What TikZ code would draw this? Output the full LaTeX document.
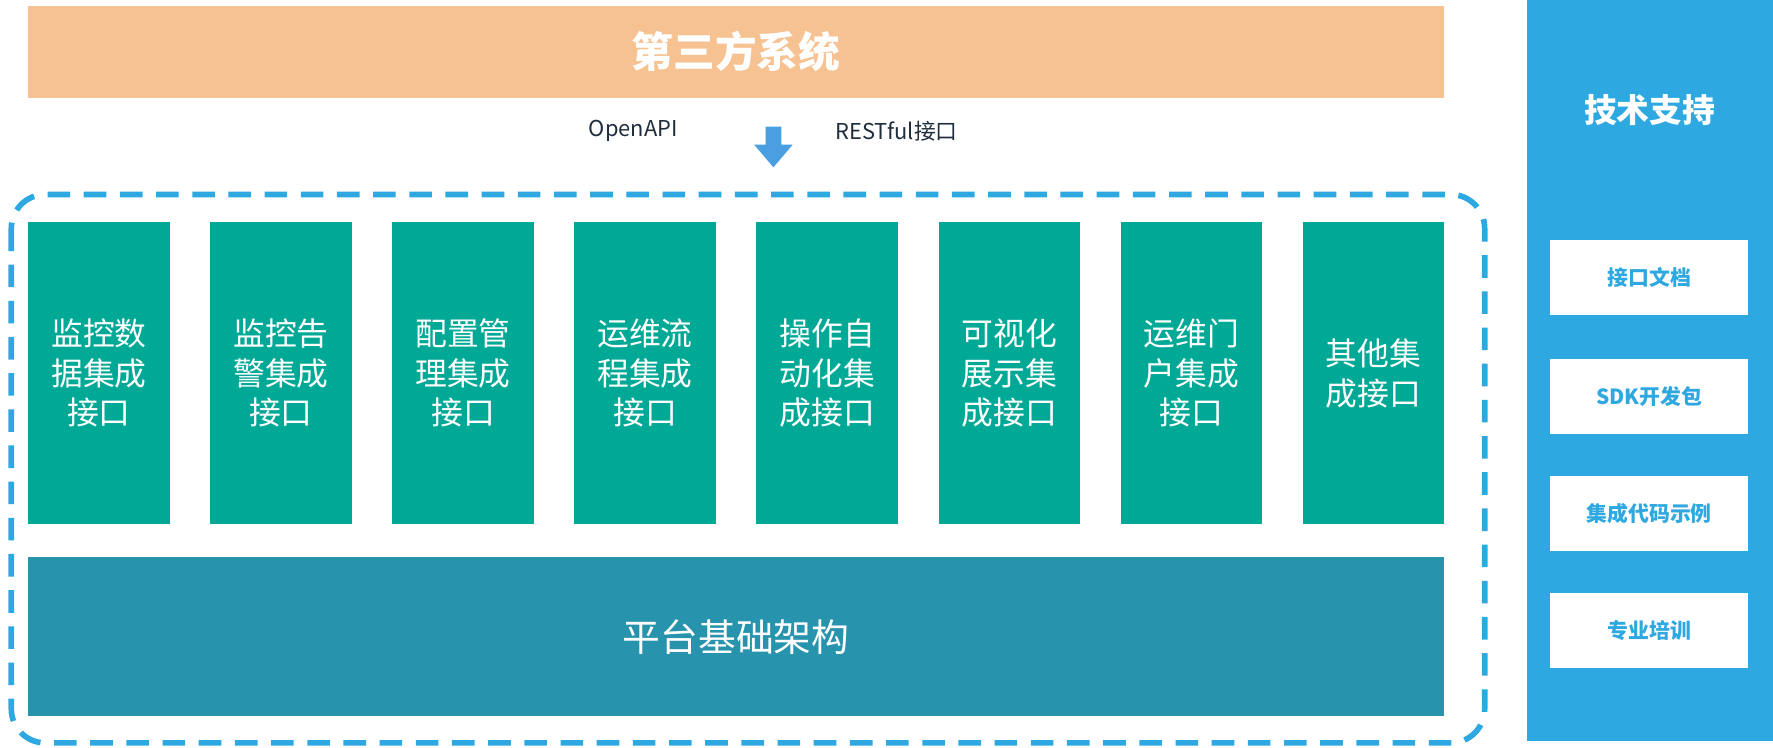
\documentclass[tikz,border=0pt]{standalone}
\usepackage{fontspec}
\setmainfont{Noto Sans CJK SC}
\begin{document}
\begin{tikzpicture}[x=0.02cm,y=-0.02cm,
  g/.style={fill=green1,text=white,minimum width=2.5cm,minimum height=5.34cm,inner sep=0,align=center,font=\fontsize{16}{20}\selectfont},
  w/.style={fill=white,text=blue1,minimum width=3.5cm,minimum height=1.32cm,inner sep=0,font=\fontsize{10.5}{12}\selectfont\bfseries}]
\definecolor{orange1}{HTML}{F7C291}
\definecolor{green1}{HTML}{00A896}
\definecolor{teal1}{HTML}{2893AD}
\definecolor{blue1}{HTML}{2EA8E0}
\definecolor{arrowb}{HTML}{4A9FE0}
\definecolor{dark}{HTML}{1F2D3D}
\useasboundingbox (0,0) rectangle (1568,661);
\node[fill=orange1,minimum width=25.04cm,minimum height=1.64cm,inner sep=0,text=white,font=\fontsize{21}{24}\selectfont\bfseries] (top) at (651,46) {第三方系统};
\node[text=dark,font=\fontsize{11}{13}\selectfont] (oa) at (560,116) {OpenAPI};
\node[text=dark,font=\fontsize{11}{13}\selectfont] (rf) at (793,116) {RESTful接口};
\fill[arrowb] (677,112) -- (691,112) -- (691,128) -- (701,128) -- (684,148) -- (667,128) -- (677,128) -- cycle;
\draw[blue1,line width=0.1cm,dash pattern=on 0.4cm off 0.24cm,rounded corners=0.6cm] (10,172) rectangle (1313,657);
\foreach \i/\t in {0/{监控数\\据集成\\接口},1/{监控告\\警集成\\接口},2/{配置管\\理集成\\接口},3/{运维流\\程集成\\接口},4/{操作自\\动化集\\成接口},5/{可视化\\展示集\\成接口},6/{运维门\\户集成\\接口},7/{其他集\\成接口}}
  \node[g] (b\i) at ({87.5+161*\i},330) {\t};
\node[fill=teal1,minimum width=25.04cm,minimum height=2.82cm,inner sep=0,text=white,font=\fontsize{19}{22}\selectfont] (base) at (651,563) {平台基础架构};
\node[fill=blue1,minimum width=4.36cm,minimum height=13.1cm,inner sep=0] (panel) at (1459,327.5) {};
\node[text=white,font=\fontsize{16.5}{19}\selectfont\bfseries] (ts) at (1459,97) {技术支持};
\node[w] (w1) at (1458.5,245.5) {接口文档};
\node[w] (w2) at (1458.5,350.5) {SDK开发包};
\node[w] (w3) at (1458.5,454) {集成代码示例};
\node[w] (w4) at (1458.5,557.5) {专业培训};
\end{tikzpicture}
\end{document}
